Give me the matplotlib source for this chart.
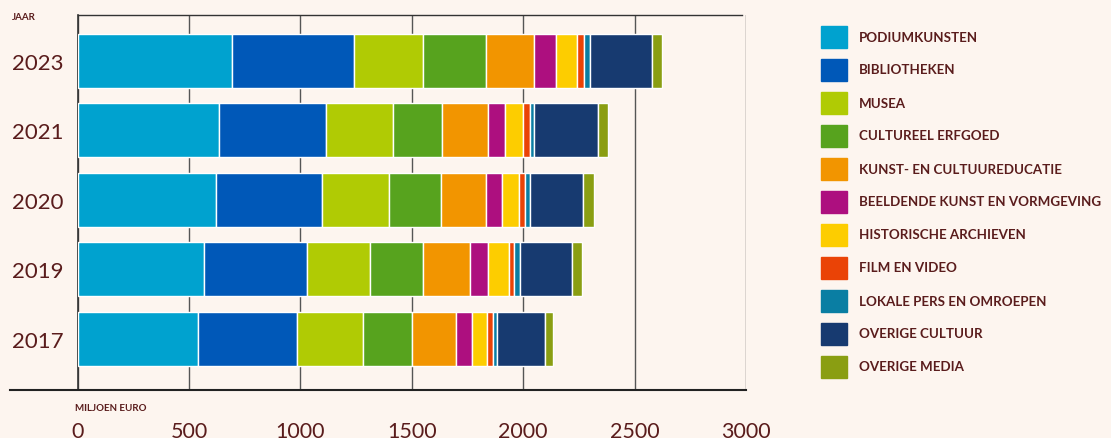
import matplotlib
matplotlib.use("Agg")
import matplotlib.pyplot as plt
import matplotlib.transforms as mtransforms
from matplotlib.patches import Rectangle
from matplotlib.lines import Line2D
import numpy as np

# jaren (boven naar beneden) en uitgaven per sector, miljoen euro
years = ["2023", "2021", "2020", "2019", "2017"]
sectors = ["PODIUMKUNSTEN", "BIBLIOTHEKEN", "MUSEA", "CULTUREEL ERFGOED",
           "KUNST- EN CULTUUREDUCATIE", "BEELDENDE KUNST EN VORMGEVING",
           "HISTORISCHE ARCHIEVEN", "FILM EN VIDEO", "LOKALE PERS EN OMROEPEN",
           "OVERIGE CULTUUR", "OVERIGE MEDIA"]
colors = ["#00a2cf", "#0058b8", "#b0cb04", "#57a31e", "#f29500", "#ad0f7f",
          "#fdcd00", "#ea4306", "#0a7ea3", "#173a70", "#8a9e12"]

podium = [695, 633, 622, 567, 542]
biblio = [544, 482, 475, 461, 443]
musea = [310, 301, 300, 285, 295]
erfgoed = [286, 220, 234, 236, 221]
educatie = [214, 206, 200, 211, 197]
beeldend = [99, 76, 76, 82, 71]
archieven = [94, 81, 73, 96, 67]
film = [30, 30, 28, 19, 29]
lokale_pers = [27, 20, 21, 30, 16]
overig_cultuur = [278, 287, 240, 234, 216]
overig_media = [48, 43, 51, 41, 39]
series = [podium, biblio, musea, erfgoed, educatie, beeldend, archieven,
          film, lokale_pers, overig_cultuur, overig_media]
xticks = [0, 500, 1000, 1500, 2000, 2500, 3000]

BG = "#fdf5ef"
TXT = "#5a1c1c"
FONT = "Lato"
W, H = 1111, 439

fig = plt.figure(figsize=(W / 100, H / 100), dpi=100, facecolor=BG)
x0, x1, y0, y1 = 77.5, 746, 16, 391
ax = fig.add_axes([x0 / W, 1 - y1 / H, (x1 - x0) / W, (y1 - y0) / H])
ax.set_facecolor(BG)

ypos = np.arange(len(years))[::-1]
left = np.zeros(len(years))
for vals, col in zip(series, colors):
    ax.barh(ypos, vals, left=left, height=0.78, color=col,
            edgecolor="white", linewidth=1.0, zorder=3)
    left += np.array(vals)

ax.set_xlim(0, 3000)
ax.set_ylim(-0.74, len(years) - 1 + 0.66)
ax.set_yticks([])
ax.set_xticks(xticks)
ax.set_xticklabels([str(t) for t in xticks], fontsize=15.5, color=TXT,
                   family=FONT)
ax.tick_params(axis="both", length=0)
ax.tick_params(axis="x", pad=22)

# jaarlabels links uitgelijnd
trans = mtransforms.blended_transform_factory(fig.transFigure, ax.transData)
for yp, yr in zip(ypos, years):
    ax.text(12 / W, yp, yr, transform=trans, fontsize=16, color=TXT,
            family=FONT, ha="left", va="center_baseline")

ax.set_axisbelow(True)
ax.grid(axis="x", color="#555555", linewidth=1.0, zorder=0)
ax.spines["right"].set_visible(False)
ax.spines["left"].set_color("#333333")
ax.spines["left"].set_linewidth(1.2)
ax.spines["top"].set_color("#333333")
ax.spines["top"].set_linewidth(1.0)
ax.spines["top"].set_bounds(0, 2982)
ax.spines["bottom"].set_visible(False)
fig.add_artist(Line2D([10 / W, x1 / W], [1 - y1 / H, 1 - y1 / H],
                      color="#222222", linewidth=1.5))

fig.text(12 / W, 1 - 17 / H, "JAAR", fontsize=7, color=TXT, family=FONT,
         fontweight="bold", va="center")
fig.text(75 / W, 1 - 409 / H, "MILJOEN EURO", fontsize=7, color=TXT,
         family=FONT, fontweight="bold", va="center")

# legenda
for i, (name, col) in enumerate(zip(sectors, colors)):
    yc = 37.5 + i * 33
    fig.add_artist(Rectangle((821 / W, 1 - (yc + 11) / H), 26 / W, 22 / H,
                             color=col, transform=fig.transFigure))
    fig.text(859 / W, 1 - yc / H, name, fontsize=9.6, color=TXT, family=FONT,
             fontweight="bold", va="center")

fig.savefig("out.png", dpi=100, facecolor=BG)
